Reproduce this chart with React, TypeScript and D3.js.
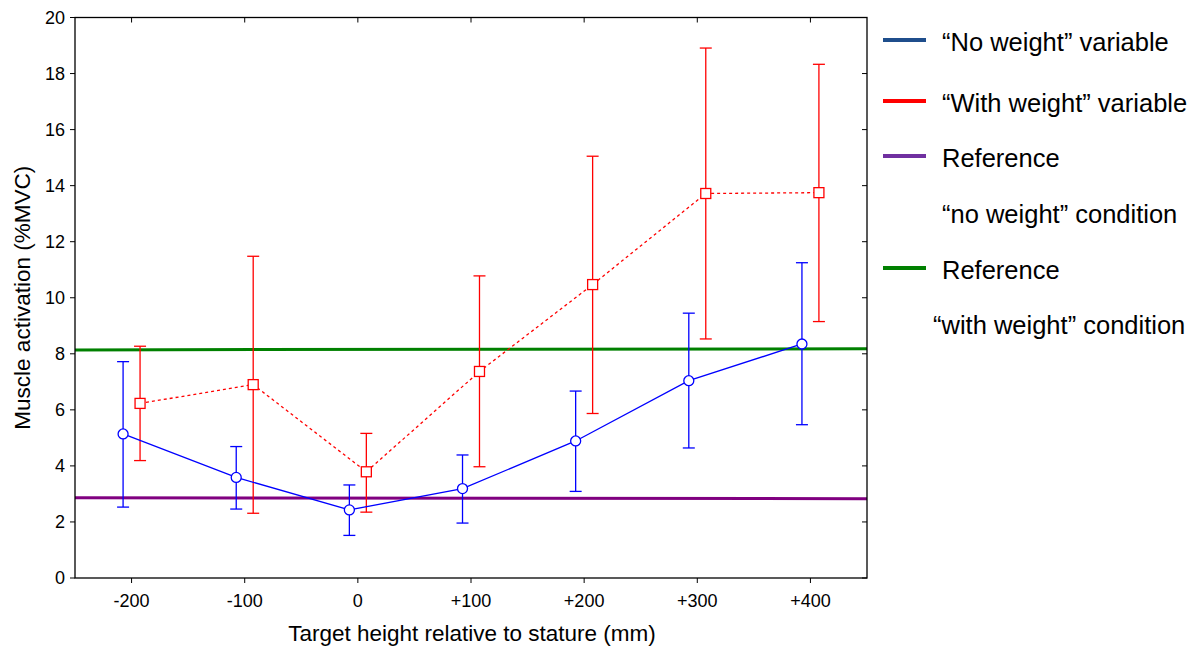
import React from "react";
import * as d3 from "d3";

const xTicks = [-200, -100, 0, 100, 200, 300, 400];
const xTickLabels = ["-200", "-100", "0", "+100", "+200", "+300", "+400"];
const yTicks = [0, 2, 4, 6, 8, 10, 12, 14, 16, 18, 20];

const heights = [-200, -100, 0, 100, 200, 300, 400];
const noWeightMean = [5.14, 3.59, 2.43, 3.19, 4.89, 7.04, 8.35];
const noWeightLo = [2.53, 2.46, 1.52, 1.96, 3.09, 4.64, 5.47];
const noWeightHi = [7.72, 4.69, 3.32, 4.39, 6.67, 9.45, 11.25];

const withWeightMean = [6.23, 6.9, 3.79, 7.37, 10.47, 13.72, 13.75];
const withWeightLo = [4.19, 2.31, 2.35, 3.97, 5.87, 8.53, 9.15];
const withWeightHi = [8.27, 11.48, 5.16, 10.78, 15.05, 18.91, 18.33];

const refNoWeight = [2.86, 2.83];
const refWithWeight = [8.14, 8.18];

const legendItems = [
  { label: "\u201cNo weight\u201d variable", color: "#1f4e8c", line: true },
  { label: "\u201cWith weight\u201d variable", color: "#ff0000", line: true },
  { label: "Reference", color: "#7030a0", line: true },
  { label: "\u201cno weight\u201d condition", color: "", line: false },
  { label: "Reference", color: "#008000", line: true },
  { label: "\u201cwith weight\u201d condition", color: "", line: false },
];

export default function App() {
  const W = 1200, H = 646;
  const left = 75, right = 867, top = 17.5, bottom = 578;
  const x = d3.scaleLinear().domain([-250, 450]).range([left, right]);
  const y = d3.scaleLinear().domain([0, 20]).range([bottom, top]);
  const off = 7.5;
  const font = "Arial, 'Liberation Sans', sans-serif";

  const blueLine = d3.line<number>().x((_, i) => x(heights[i] - off)).y((d) => y(d));
  const redLine = d3.line<number>().x((_, i) => x(heights[i] + off)).y((d) => y(d));

  const errBars = (means: number[], lo: number[], hi: number[], dx: number, color: string) =>
    means.map((_, i) => {
      const cx = x(heights[i] + dx);
      return (
        <g key={i} stroke={color} strokeWidth={1.3}>
          <line x1={cx} x2={cx} y1={y(lo[i])} y2={y(hi[i])} />
          <line x1={cx - 6} x2={cx + 6} y1={y(lo[i])} y2={y(lo[i])} />
          <line x1={cx - 6} x2={cx + 6} y1={y(hi[i])} y2={y(hi[i])} />
        </g>
      );
    });

  return (
    <svg width={W} height={H} style={{ position: "absolute", left: 0, top: 0 }} fontFamily={font}>
      <rect width={W} height={H} fill="#fff" />
      {/* reference lines */}
      <line x1={left} x2={right} y1={y(refNoWeight[0])} y2={y(refNoWeight[1])} stroke="#800080" strokeWidth={3} />
      <line x1={left} x2={right} y1={y(refWithWeight[0])} y2={y(refWithWeight[1])} stroke="#008000" strokeWidth={3} />
      {/* error bars */}
      {errBars(noWeightMean, noWeightLo, noWeightHi, -off, "#0000ff")}
      {errBars(withWeightMean, withWeightLo, withWeightHi, off, "#ff0000")}
      {/* lines */}
      <path d={redLine(withWeightMean) || ""} fill="none" stroke="#ff0000" strokeWidth={1.3} strokeDasharray="3,3" />
      <path d={blueLine(noWeightMean) || ""} fill="none" stroke="#0000ff" strokeWidth={1.3} />
      {/* markers */}
      {withWeightMean.map((d, i) => (
        <rect key={i} x={x(heights[i] + off) - 5} y={y(d) - 5} width={10} height={10} fill="#fff" stroke="#ff0000" strokeWidth={1.3} />
      ))}
      {noWeightMean.map((d, i) => (
        <circle key={i} cx={x(heights[i] - off)} cy={y(d)} r={5} fill="#fff" stroke="#0000ff" strokeWidth={1.3} />
      ))}
      {/* frame */}
      <rect x={left} y={top} width={right - left} height={bottom - top} fill="none" stroke="#000" strokeWidth={1.3} />
      {/* x ticks */}
      {xTicks.map((t, i) => (
        <g key={t}>
          <line x1={x(t)} x2={x(t)} y1={bottom} y2={bottom + 5} stroke="#000" />
          <line x1={x(t)} x2={x(t)} y1={top} y2={top + 5} stroke="#000" />
          <text x={x(t)} y={bottom + 29} textAnchor="middle" fontSize={18} fill="#000">{xTickLabels[i]}</text>
        </g>
      ))}
      {/* y ticks */}
      {yTicks.map((t) => (
        <g key={t}>
          <line x1={left - 5} x2={left} y1={y(t)} y2={y(t)} stroke="#000" />
          <line x1={right - 5} x2={right} y1={y(t)} y2={y(t)} stroke="#000" />
          <text x={left - 10} y={y(t)} dy="0.35em" textAnchor="end" fontSize={18} fill="#000">{t}</text>
        </g>
      ))}
      {/* axis titles */}
      <text x={472} y={641} textAnchor="middle" fontSize={22.5} fill="#000">Target height relative to stature (mm)</text>
      <text transform={`translate(30,${(top + bottom) / 2}) rotate(-90)`} textAnchor="middle" fontSize={22.5} fill="#000">Muscle activation (%MVC)</text>
      {/* legend */}
      {legendItems.map((it, i) => {
        const ys = [40, 101, 156, 212, 268, 323];
        const yy = ys[i];
        return (
          <g key={i}>
            {it.line && <line x1={883} x2={926} y1={yy} y2={yy} stroke={it.color} strokeWidth={4} />}
            <text x={i === 5 ? 933 : 942} y={yy + 2} dy="0.35em" fontSize={25.5} fill="#000">{it.label}</text>
          </g>
        );
      })}
    </svg>
  );
}
